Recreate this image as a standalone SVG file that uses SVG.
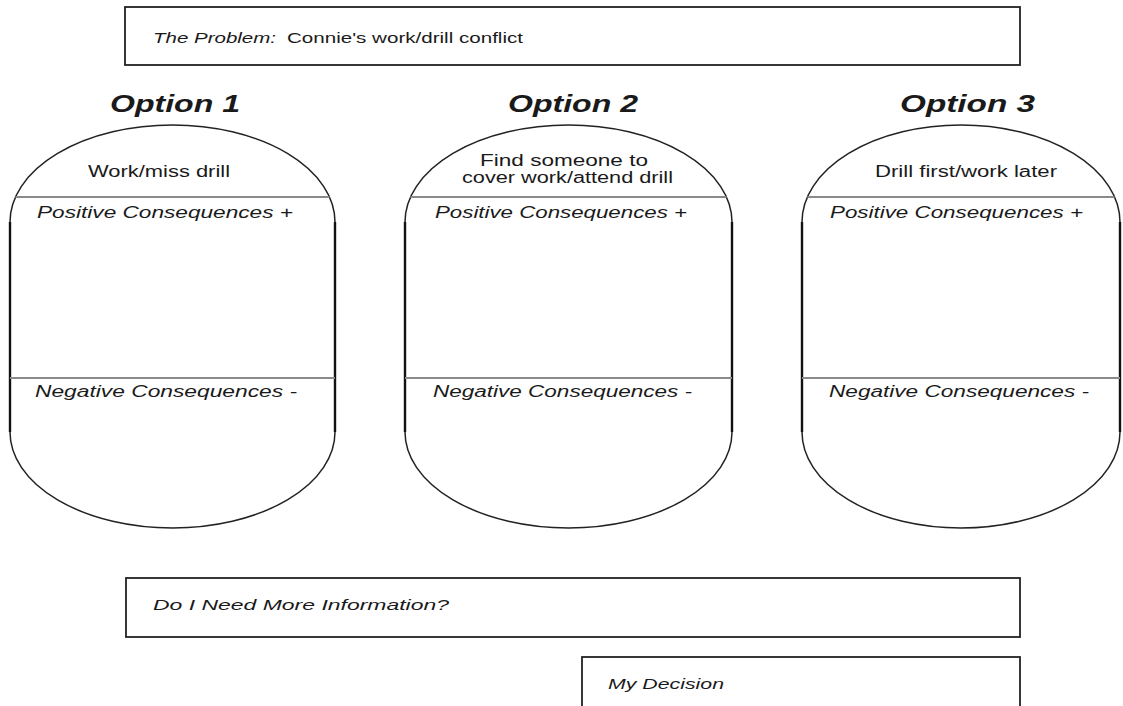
<svg xmlns="http://www.w3.org/2000/svg" width="1123" height="706" viewBox="0 0 1123 706">
<style>
.box{fill:#fff;stroke:#222;stroke-width:1.8}
.shape{fill:#fff;stroke:#222;stroke-width:1.5}
.side{stroke:#111;stroke-width:2.4}
.div{stroke:#8a8a8a;stroke-width:2}
text{font-family:"Liberation Sans",Arial,sans-serif;fill:#1a1a1a}
.opt{font-size:24px;font-weight:bold;font-style:italic}
.lbl{font-size:16px}
.it{font-size:16px;font-style:italic}
.bx{font-size:15px}
</style>
<rect width="1123" height="706" fill="#fff"/>
<g id="problem">
<rect class="box" x="125" y="7" width="895" height="58"/>
<text class="bx" x="153" y="43" font-style="italic" textLength="123" lengthAdjust="spacingAndGlyphs">The Problem:</text>
<text class="bx" x="287" y="43" textLength="236" lengthAdjust="spacingAndGlyphs">Connie's work/drill conflict</text>
</g>
<g id="option1">
<text class="opt" x="110" y="112" textLength="130" lengthAdjust="spacingAndGlyphs">Option 1</text>
<path class="shape" d="M10,222 A162.5,97 0 0 1 335,222 L335,432 A162.5,96 0 0 1 10,432 Z"/>
<line class="side" x1="10" y1="222" x2="10" y2="432"/>
<line class="side" x1="335" y1="222" x2="335" y2="432"/>
<line class="div" x1="15.5" y1="197" x2="329.5" y2="197"/>
<line class="div" x1="10" y1="378" x2="335" y2="378"/>
<text class="lbl" x="88" y="177" textLength="142" lengthAdjust="spacingAndGlyphs">Work/miss drill</text>
<text class="it" x="37" y="218" textLength="256" lengthAdjust="spacingAndGlyphs">Positive Consequences +</text>
<text class="it" x="35" y="397" textLength="262" lengthAdjust="spacingAndGlyphs">Negative Consequences -</text>
</g>
<g id="option2">
<text class="opt" x="508" y="112" textLength="130" lengthAdjust="spacingAndGlyphs">Option 2</text>
<path class="shape" d="M405,222 A163.5,97 0 0 1 732,222 L732,432 A163.5,96 0 0 1 405,432 Z"/>
<line class="side" x1="405" y1="222" x2="405" y2="432"/>
<line class="side" x1="732" y1="222" x2="732" y2="432"/>
<line class="div" x1="410.5" y1="197" x2="726.5" y2="197"/>
<line class="div" x1="405" y1="378" x2="732" y2="378"/>
<text class="lbl" x="480" y="166" textLength="168" lengthAdjust="spacingAndGlyphs">Find someone to</text>
<text class="lbl" x="462" y="183" textLength="211" lengthAdjust="spacingAndGlyphs">cover work/attend drill</text>
<text class="it" x="435" y="218" textLength="252" lengthAdjust="spacingAndGlyphs">Positive Consequences +</text>
<text class="it" x="433" y="397" textLength="259" lengthAdjust="spacingAndGlyphs">Negative Consequences -</text>
</g>
<g id="option3">
<text class="opt" x="900" y="112" textLength="135" lengthAdjust="spacingAndGlyphs">Option 3</text>
<path class="shape" d="M802,222 A159,97 0 0 1 1120,222 L1120,432 A159,96 0 0 1 802,432 Z"/>
<line class="side" x1="802" y1="222" x2="802" y2="432"/>
<line class="side" x1="1120" y1="222" x2="1120" y2="432"/>
<line class="div" x1="807.5" y1="197" x2="1114.5" y2="197"/>
<line class="div" x1="802" y1="378" x2="1120" y2="378"/>
<text class="lbl" x="875" y="177" textLength="182" lengthAdjust="spacingAndGlyphs">Drill first/work later</text>
<text class="it" x="830" y="218" textLength="253" lengthAdjust="spacingAndGlyphs">Positive Consequences +</text>
<text class="it" x="829" y="397" textLength="260" lengthAdjust="spacingAndGlyphs">Negative Consequences -</text>
</g>
<g id="connectors"/>
<g id="more-info">
<rect class="box" x="126" y="578" width="894" height="59"/>
<text class="bx" x="153" y="610" font-style="italic" textLength="296" lengthAdjust="spacingAndGlyphs">Do I Need More Information?</text>
</g>
<g id="decision">
<rect class="box" x="582" y="657" width="438" height="54"/>
<text class="bx" x="608" y="689" font-style="italic" textLength="116" lengthAdjust="spacingAndGlyphs">My Decision</text>
</g>
</svg>
